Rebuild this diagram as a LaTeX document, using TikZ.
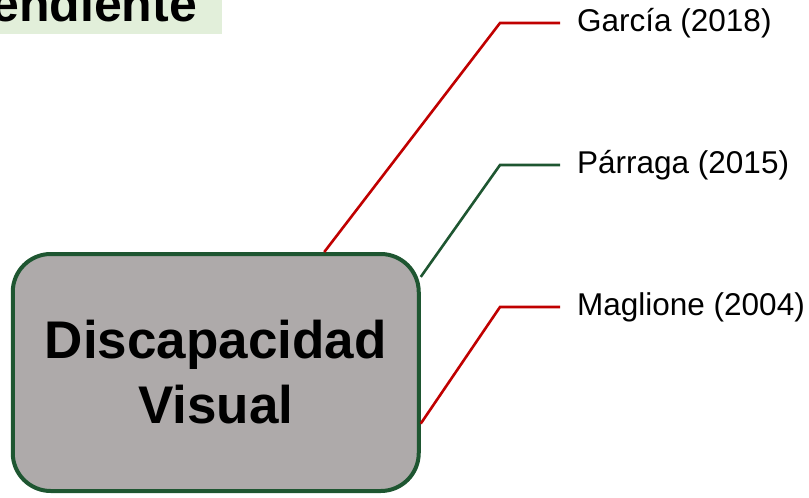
\documentclass[tikz,border=0pt]{standalone}
\usepackage{fontspec}
\setmainfont{Liberation Sans}
\definecolor{redline}{HTML}{C00000}
\definecolor{greenline}{HTML}{1E5631}
\definecolor{boxgray}{HTML}{AEAAAA}
\definecolor{headgreen}{HTML}{E2EFDA}
\tikzset{
  reflabel/.style={anchor=west,inner xsep=17pt,inner ysep=0pt,font=\fontsize{31.5}{37}\selectfont},
  refline/.style={line width=2.6pt,line join=miter},
}
\begin{document}
\begin{tikzpicture}[x=1pt,y=-1pt]
\useasboundingbox (0,0) rectangle (809,498);
\clip (0,0) rectangle (809,498);

\fill[headgreen] (0,0) rectangle (222,34);
\node[anchor=base east,inner sep=0pt,font=\bfseries\fontsize{50}{54}\selectfont] (hdr) at (197,21) {endiente};

\node[draw=greenline,line width=4pt,fill=boxgray,rounded corners=38pt,
  minimum width=406pt,minimum height=237pt,align=center,
  font=\bfseries\fontsize{53}{65}\selectfont] (dv) at (215.75,372.5) {Discapacidad\\Visual};

\node[reflabel] (garcia) at (560,23) {García (2018)};
\node[reflabel] (parraga) at (560,165) {Párraga (2015)};
\node[reflabel] (maglione) at (560,307) {Maglione (2004)};

\coordinate (e1) at (500,23);
\coordinate (e2) at (500,165);
\coordinate (e3) at (500,307);

\draw[refline,draw=redline] (dv.48.7) -- (e1) -- (garcia.west);
\draw[refline,draw=greenline] (dv.25.7) -- (e2) -- (parraga.west);
\draw[refline,draw=redline] (dv.-14.5) -- (e3) -- (maglione.west);
\end{tikzpicture}
\end{document}
